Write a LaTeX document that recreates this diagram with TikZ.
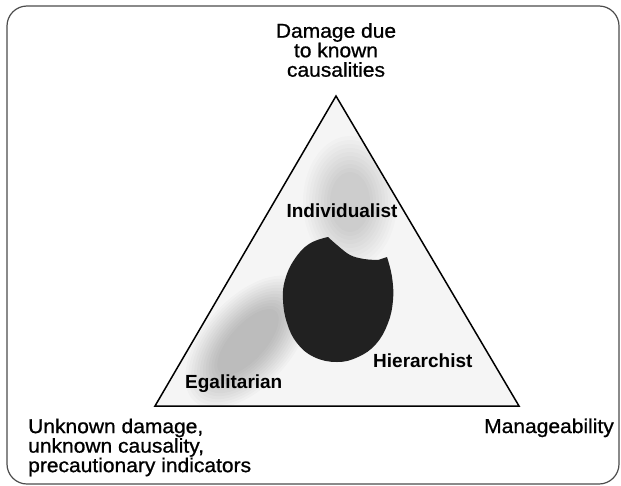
\documentclass[tikz,border=0pt]{standalone}
\usepackage{fontspec}
\setmainfont{Liberation Sans}
\newfontfamily\cornerfont[FakeBold=0.9, FakeStretch=1.05]{Liberation Sans}
\begin{document}
\begin{tikzpicture}[x=1pt,y=-1pt,
  cornerlabel/.style={inner sep=0pt, font=\cornerfont\fontsize{20}{19.5}\selectfont},
  grouplabel/.style={inner sep=0pt, font=\fontsize{19}{20}\selectfont\bfseries},
  frame/.style={draw=black!70, line width=1.2pt, rounded corners=20pt},
  edge/.style={draw=black, line width=1.5pt, line join=miter},
  blob/.style={fill=black, opacity=0.02},
  core/.style={fill=black!87},
]
\useasboundingbox (0,0) rectangle (621,485);

% outer frame
\draw[frame] (7,6) rectangle (619,484);

% triangle corners
\coordinate (top) at (336,96);
\coordinate (bl) at (155,406);
\coordinate (br) at (519,406);
\fill[black!4] (top) -- (bl) -- (br) -- cycle;

% soft grey regions, kept inside the triangle
\begin{scope}
  \clip (top) -- (bl) -- (br) -- cycle;
  % egalitarian region
  \foreach \k in {0,...,11} {
    \fill[blob, rotate around={48:(248,342)}]
      (248,342) ellipse [x radius={80pt-\k*3.5pt}, y radius={44pt-\k*2.4pt}];
  }
  % individualist region
  \foreach \k in {0,...,9} {
    \fill[blob, opacity=0.014]
      (350,202) ellipse [x radius={47pt-\k*3pt}, y radius={66pt-\k*4pt}];
  }
\end{scope}

% hierarchist region with its bite
\fill[core]
  plot[smooth, tension=0.7] coordinates {
    (328,237) (309,244) (294,260) (285,280) (283,300) (287,323) (297,343)
    (314,357) (337,362) (358,357) (376,344) (388,323) (393,300) (392,277)
    (387,257)}
  -- plot[smooth, tension=0.6] coordinates {
    (378,260) (364,259) (350,255) (337,245) (328,237)}
  -- cycle;

% triangle outline
\draw[edge] (top) -- (bl) -- (br) -- cycle;

% corner labels
\node[cornerlabel, anchor=north, align=center] (dmg) at (336,23)
  {Damage due\\to known\\causalities};
\node[cornerlabel, anchor=north west, align=left] (unk) at (28,418.4)
  {Unknown damage,\\unknown causality,\\precautionary indicators};
\node[cornerlabel, anchor=base east] (man) at (614,433) {Manageability};

% group labels
\node[grouplabel, anchor=base] (ind) at (342,217) {Individualist};
\node[grouplabel, anchor=base west] (hie) at (373,367) {Hierarchist};
\node[grouplabel, anchor=base west] (ega) at (185,388) {Egalitarian};
\end{tikzpicture}
\end{document}
